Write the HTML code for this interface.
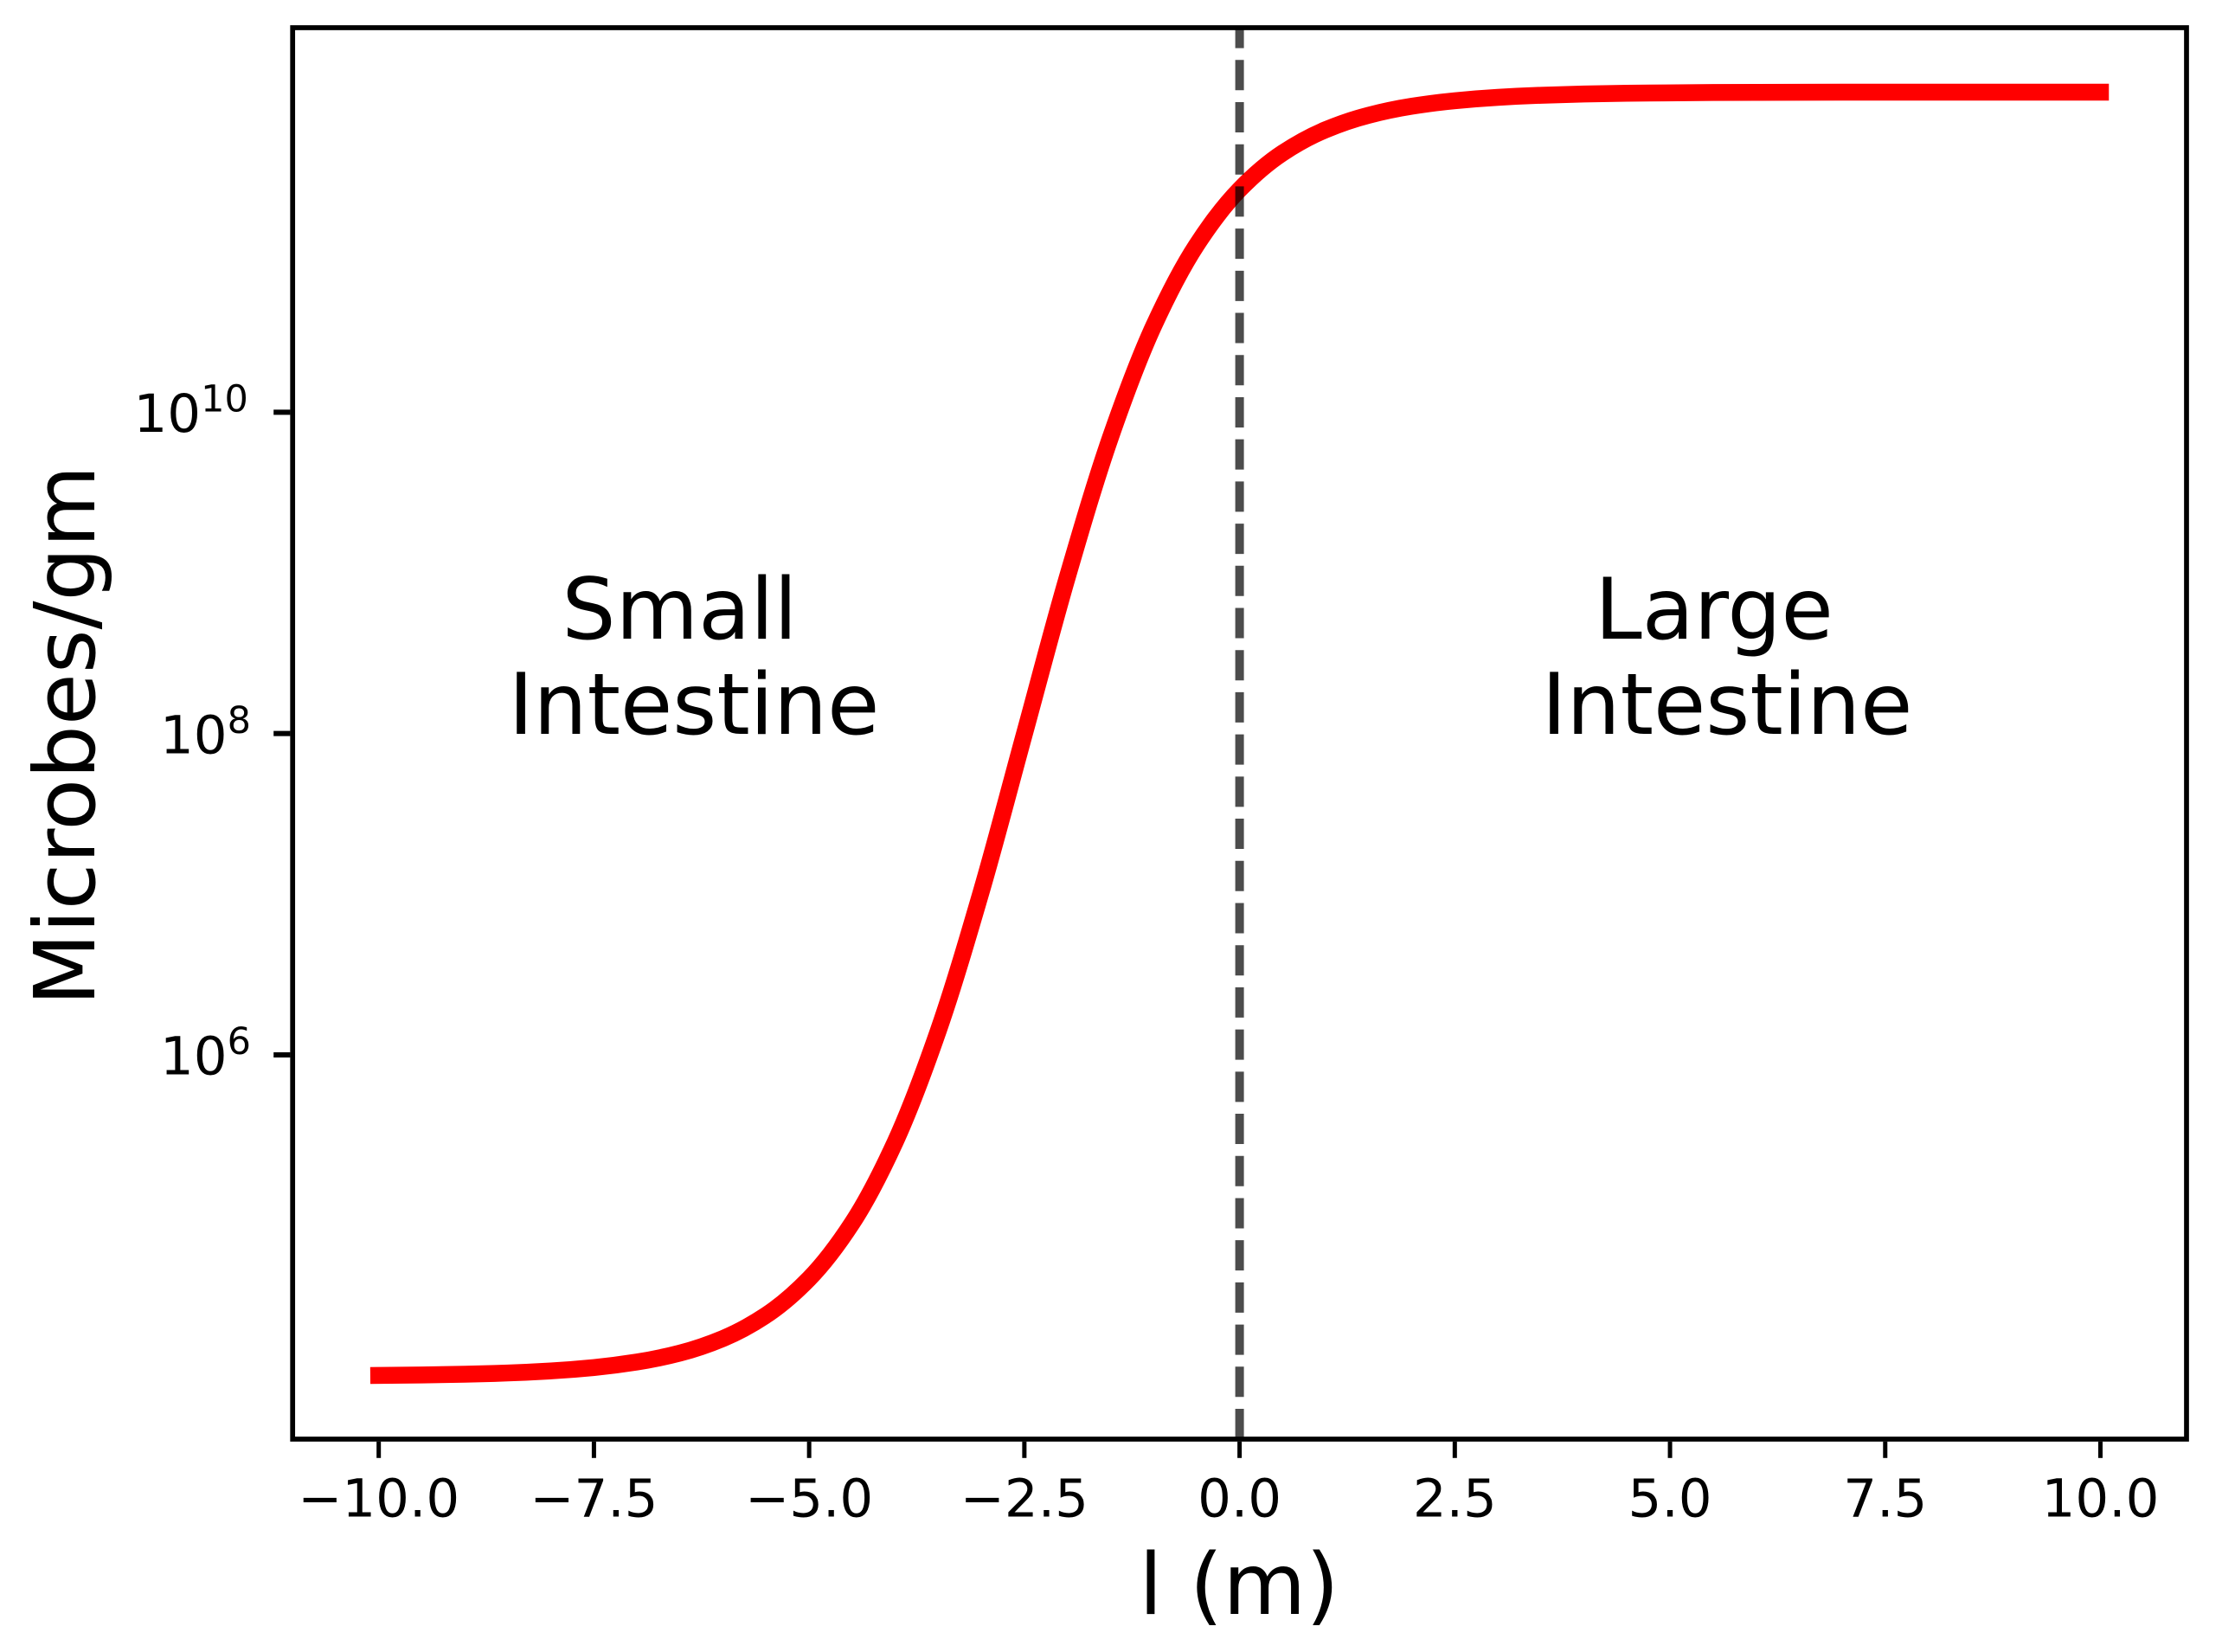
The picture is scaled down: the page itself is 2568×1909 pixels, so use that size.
<!DOCTYPE html>
<html lang="en">
<head>
<meta charset="utf-8">
<title>Microbes per gram along the intestine</title>
<style>
  html, body { margin: 0; padding: 0; background: #fff; }
  body { width: 2568px; height: 1909px; overflow: hidden; }
  svg { display: block; font-family: "DejaVu Sans", "Liberation Sans", sans-serif; }
</style>
</head>
<body>
<svg id="chart" xmlns="http://www.w3.org/2000/svg" width="2568" height="1909" viewBox="0 0 2568 1909">
  <rect x="0" y="0" width="2568" height="1909" fill="#ffffff"/>
  <g id="marks"></g>
  <g id="axes"></g>
  <text x="785.5" y="738" font-size="98" text-anchor="middle" fill="#000">Small</text>
  <text x="802" y="848" font-size="98" text-anchor="middle" fill="#000">Intestine</text>
  <text x="1981" y="738" font-size="98" text-anchor="middle" fill="#000">Large</text>
  <text x="1996" y="848" font-size="98" text-anchor="middle" fill="#000">Intestine</text>
  <text x="1432" y="1865" font-size="98.5" text-anchor="middle" fill="#000">l (m)</text>
  <text x="0" y="0" transform="translate(109 850) rotate(-90)" font-size="97.5" text-anchor="middle" fill="#000">Microbes/gm</text>
</svg>
<script>
// Values estimated from the picture and smoothed.
const positionMetres = [-10, -9.5, -9, -8.5, -8, -7.5, -7, -6.5, -6, -5.5,
  -5, -4.5, -4, -3.5, -3, -2.5, -2, -1.5, -1, -0.5,
  0, 0.5, 1, 1.5, 2, 2.5, 3, 3.5, 4, 4.5,
  5.5, 6.5, 7.5, 8.5, 9.5, 10];
const microbesPerGram = [1.0102e4, 1.0169e4, 1.028e4, 1.0466e4, 1.0779e4, 1.1313e4, 1.2243e4, 1.3927e4, 1.7161e4, 2.3956e4,
  4.0445e4, 8.971e4, 2.8717e5, 1.4116e6, 1.0416e7, 9.92e7, 9.447e8, 6.972e9, 3.427e10, 1.0971e11,
  2.436e11, 4.1106e11, 5.737e11, 7.067e11, 8.037e11, 8.697e11, 9.13e11, 9.403e11, 9.572e11, 9.676e11,
  9.78e11, 9.818e11, 9.832e11, 9.837e11, 9.839e11, 9.84e11];
const xTickValues = [-10, -7.5, -5, -2.5, 0, 2.5, 5, 7.5, 10];
const xTickLabels = ["\u221210.0", "\u22127.5", "\u22125.0", "\u22122.5", "0.0", "2.5", "5.0", "7.5", "10.0"];
const yTickValues = [1e6, 1e8, 1e10];
const yTickExponents = ["6", "8", "10"];
const boundaryPosition = 0;

const plotLeft = 338.2, plotRight = 2527, plotTop = 32, plotBottom = 1663;
const xDomainMin = -11, xDomainMax = 11;
const yLogMin = 3.608, yLogMax = 12.394;

function xScale(v) {
  return plotLeft + (v - xDomainMin) / (xDomainMax - xDomainMin) * (plotRight - plotLeft);
}
function yScale(v) {
  return plotBottom - (Math.log10(v) - yLogMin) / (yLogMax - yLogMin) * (plotBottom - plotTop);
}

const NS = "http://www.w3.org/2000/svg";
function make(parent, tag, attrs, text) {
  const el = document.createElementNS(NS, tag);
  for (const k in attrs) el.setAttribute(k, attrs[k]);
  if (text !== undefined) el.textContent = text;
  parent.appendChild(el);
  return el;
}

// Smooth monotone path through the data points.
function monotonePath(px, py) {
  const n = px.length, d = [], m = [];
  for (let i = 0; i < n - 1; i++) d.push((py[i + 1] - py[i]) / (px[i + 1] - px[i]));
  m.push(d[0]);
  for (let i = 1; i < n - 1; i++) {
    if (d[i - 1] * d[i] <= 0) { m.push(0); continue; }
    const h0 = px[i] - px[i - 1], h1 = px[i + 1] - px[i];
    const w1 = 2 * h1 + h0, w2 = h1 + 2 * h0;
    m.push((w1 + w2) / (w1 / d[i - 1] + w2 / d[i]));
  }
  m.push(d[n - 2]);
  let s = "M" + px[0].toFixed(2) + " " + py[0].toFixed(2);
  for (let i = 0; i < n - 1; i++) {
    const h = (px[i + 1] - px[i]) / 3;
    s += " C" + (px[i] + h).toFixed(2) + " " + (py[i] + m[i] * h).toFixed(2) + " " +
         (px[i + 1] - h).toFixed(2) + " " + (py[i + 1] - m[i + 1] * h).toFixed(2) + " " +
         px[i + 1].toFixed(2) + " " + py[i + 1].toFixed(2);
  }
  return s;
}

const marks = document.getElementById("marks");
const axes = document.getElementById("axes");

const curve = make(marks, "path", {
  d: monotonePath(positionMetres.map(xScale), microbesPerGram.map(yScale)),
  fill: "none", stroke: "#ff0000", "stroke-width": 19.5, "stroke-linecap": "square", "stroke-linejoin": "round"
});



const boundary = make(marks, "line", {
  x1: xScale(boundaryPosition), x2: xScale(boundaryPosition), y1: plotBottom, y2: plotTop,
  stroke: "#000000", "stroke-opacity": 0.7, "stroke-width": 10, "stroke-dasharray": "35 13.71"
});



const frame = make(axes, "rect", {
  x: plotLeft, y: plotTop, width: plotRight - plotLeft, height: plotBottom - plotTop,
  fill: "none", stroke: "#000000", "stroke-width": 5.7, "stroke-linejoin": "miter"
});



xTickValues.forEach(function (v, i) {
  const tick = make(axes, "line", {
    x1: xScale(v), x2: xScale(v), y1: plotBottom + 2.8, y2: plotBottom + 21.8,
    stroke: "#000000", "stroke-width": 5
  });
  
  
  const label = make(axes, "text", {
    x: xScale(v), y: 1752.5, "font-size": 61, "text-anchor": "middle", fill: "#000"
  }, xTickLabels[i]);
  
  
});

yTickValues.forEach(function (v, i) {
  const y = yScale(v);
  const tick = make(axes, "line", {
    x1: plotLeft - 2.8, x2: plotLeft - 22, y1: y, y2: y,
    stroke: "#000000", "stroke-width": 6
  });
  
  
  const exponent = yTickExponents[i];
  const startX = 185 - (exponent.length - 1) * 30.5;
  const label = make(axes, "text", { x: startX, y: y + 22.6, "font-size": 61, fill: "#000" });
  
  
  make(label, "tspan", {}, "10");
  make(label, "tspan", { dy: -23.5, "font-size": 43 }, exponent);
});
</script>
</body>
</html>
